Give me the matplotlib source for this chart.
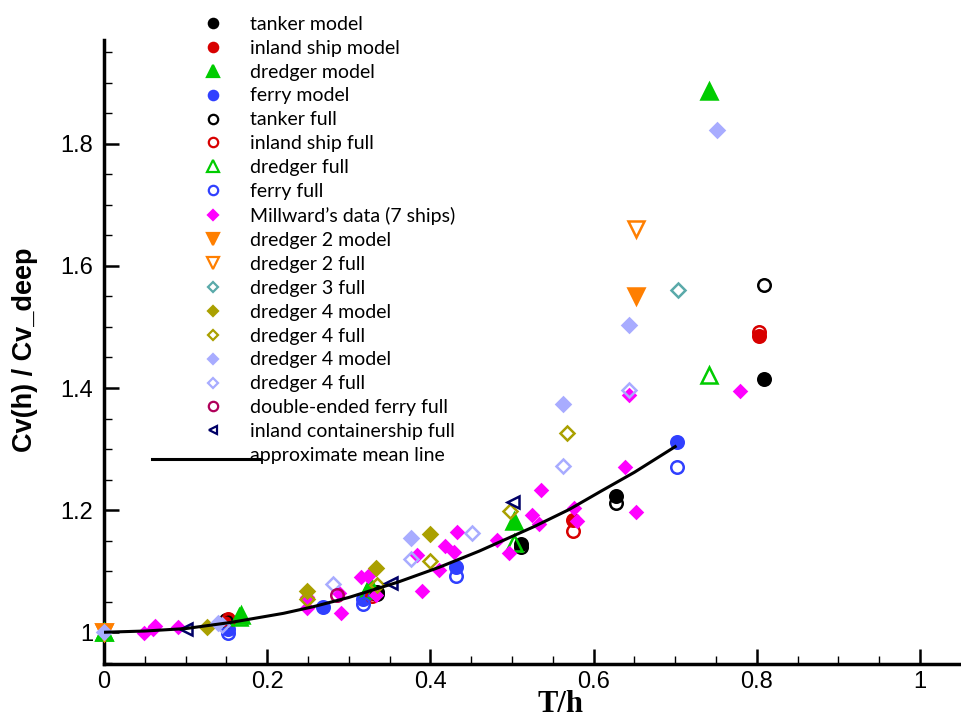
import matplotlib
matplotlib.use("Agg")
import matplotlib.pyplot as plt
from matplotlib.lines import Line2D
from matplotlib.legend_handler import HandlerBase
from matplotlib.ticker import MultipleLocator, FuncFormatter

# ---------------- data ----------------
tanker_model_x = [0.150, 0.334, 0.511, 0.628, 0.809]
tanker_model_y = [1.020, 1.066, 1.145, 1.223, 1.415]
tanker_full_x = [0.150, 0.334, 0.511, 0.628, 0.809]
tanker_full_y = [1.018, 1.063, 1.140, 1.211, 1.568]

inland_model_x = [0.152, 0.328, 0.575, 0.803]
inland_model_y = [1.022, 1.065, 1.184, 1.485]
inland_full_x = [0.152, 0.328, 0.575, 0.803]
inland_full_y = [1.020, 1.060, 1.166, 1.491]

dredger_model_x = [0.000, 0.168, 0.326, 0.502, 0.742]
dredger_model_y = [1.000, 1.028, 1.077, 1.182, 1.887]
dredger_full_x = [0.000, 0.165, 0.323, 0.502, 0.742]
dredger_full_y = [1.000, 1.025, 1.070, 1.146, 1.421]

ferry_model_x = [0.152, 0.268, 0.318, 0.431, 0.702]
ferry_model_y = [1.005, 1.041, 1.055, 1.107, 1.312]
ferry_full_x = [0.152, 0.318, 0.431, 0.702]
ferry_full_y = [0.998, 1.047, 1.092, 1.271]

millward_x = [0.049, 0.060, 0.063, 0.091, 0.249, 0.249, 0.291, 0.288, 0.315,
              0.324, 0.333, 0.384, 0.390, 0.411, 0.418, 0.429, 0.433, 0.481,
              0.496, 0.525, 0.533, 0.535, 0.576, 0.580, 0.639, 0.652, 0.643,
              0.779]
millward_y = [0.998, 1.005, 1.011, 1.009, 1.057, 1.039, 1.032, 1.065, 1.090,
              1.092, 1.061, 1.126, 1.068, 1.102, 1.141, 1.132, 1.164, 1.151,
              1.129, 1.192, 1.177, 1.233, 1.203, 1.182, 1.271, 1.197, 1.388,
              1.395]

dredger2_model_x = [0.000, 0.652]
dredger2_model_y = [1.000, 1.550]
dredger2_full_x = [0.000, 0.652]
dredger2_full_y = [1.000, 1.661]

dredger3_full_x = [0.703]
dredger3_full_y = [1.561]

dredger4a_model_x = [0.126, 0.249, 0.333, 0.399]
dredger4a_model_y = [1.009, 1.068, 1.106, 1.161]
dredger4a_full_x = [0.249, 0.334, 0.399, 0.497, 0.568]
dredger4a_full_y = [1.054, 1.077, 1.117, 1.199, 1.326]

dredger4b_model_x = [0.000, 0.140, 0.376, 0.562, 0.643, 0.751]
dredger4b_model_y = [1.000, 1.015, 1.154, 1.374, 1.503, 1.822]
dredger4b_full_x = [0.145, 0.281, 0.376, 0.451, 0.563, 0.643]
dredger4b_full_y = [1.012, 1.079, 1.120, 1.162, 1.273, 1.396]

def_ferry_full_x = [0.286]
def_ferry_full_y = [1.061]

container_full_x = [0.101, 0.352, 0.501]
container_full_y = [1.006, 1.080, 1.214]

mean_x = [0.0, 0.05, 0.10, 0.155, 0.22, 0.257, 0.30, 0.36, 0.41, 0.46, 0.527,
          0.57, 0.609, 0.65, 0.70]
mean_y = [1.0, 1.002, 1.006, 1.016, 1.031, 1.042, 1.057, 1.082, 1.106, 1.133,
          1.173, 1.201, 1.231, 1.262, 1.304]

# ---------------- style per series ----------------
BLACK = "#000000"
RED = "#d80000"
GREEN = "#00cc00"
BLUE = "#3040ff"
MAG = "#ff00ff"
ORANGE = "#ff7f00"
TEAL = "#5aaaaa"
OLIVE = "#aaa000"
LAV = "#a8acff"
MAROON = "#b0005a"
NAVY = "#000066"

series = [
    ("tanker model", tanker_model_x, tanker_model_y, "o", BLACK, True, 9),
    ("inland ship model", inland_model_x, inland_model_y, "o", RED, True, 9),
    ("dredger model", dredger_model_x, dredger_model_y, "^", GREEN, True, 12),
    ("ferry model", ferry_model_x, ferry_model_y, "o", BLUE, True, 9),
    ("tanker full", tanker_full_x, tanker_full_y, "o", BLACK, False, 9),
    ("inland ship full", inland_full_x, inland_full_y, "o", RED, False, 9),
    ("dredger full", dredger_full_x, dredger_full_y, "^", GREEN, False, 12),
    ("ferry full", ferry_full_x, ferry_full_y, "o", BLUE, False, 9),
    ("Millward\u2019s data (7 ships)", millward_x, millward_y, "D", MAG, True, 6.5),
    ("dredger 2 model", dredger2_model_x, dredger2_model_y, "v", ORANGE, True, 12),
    ("dredger 2 full", dredger2_full_x, dredger2_full_y, "v", ORANGE, False, 12),
    ("dredger 3 full", dredger3_full_x, dredger3_full_y, "D", TEAL, False, 7),
    ("dredger 4 model", dredger4a_model_x, dredger4a_model_y, "D", OLIVE, True, 7),
    ("dredger 4 full", dredger4a_full_x, dredger4a_full_y, "D", OLIVE, False, 7),
    ("dredger 4 model", dredger4b_model_x, dredger4b_model_y, "D", LAV, True, 7),
    ("dredger 4 full", dredger4b_full_x, dredger4b_full_y, "D", LAV, False, 7),
    ("double-ended ferry full", def_ferry_full_x, def_ferry_full_y, "o", MAROON, False, 9),
    ("inland containership full", container_full_x, container_full_y, "<", NAVY, False, 8),
]

fig = plt.figure(figsize=(9.62, 7.18), dpi=100)
ax = fig.add_axes([104 / 962, 1 - 664 / 718, (960 - 104) / 962, (664 - 40) / 718])

handles = []
for label, xs, ys, mk, col, filled, ms in series:
    ax.plot(xs, ys, linestyle="none", marker=mk, markersize=ms,
            markerfacecolor=col if filled else "none", markeredgecolor=col,
            markeredgewidth=1.8, clip_on=False, zorder=3)
    handles.append(Line2D([], [], linestyle="none", marker=mk, markersize=ms * 0.75,
                          markerfacecolor=col if filled else "none",
                          markeredgecolor=col, markeredgewidth=1.6, label=label))

ax.plot(mean_x, mean_y, color="black", linewidth=2.2, zorder=4)
mean_handle = Line2D([], [], color="black", linewidth=2.2, label="approximate mean line")
handles.append(mean_handle)

ax.set_xlim(0, 1.049)
ax.set_ylim(0.948, 1.970)

for s in ["top", "right"]:
    ax.spines[s].set_visible(False)
for s in ["left", "bottom"]:
    ax.spines[s].set_linewidth(2.5)

ax.xaxis.set_major_locator(MultipleLocator(0.2))
ax.xaxis.set_minor_locator(MultipleLocator(0.05))
ax.yaxis.set_major_locator(MultipleLocator(0.2))
ax.yaxis.set_minor_locator(MultipleLocator(0.05))
fmt = FuncFormatter(lambda v, p: "%g" % round(v, 6))
ax.xaxis.set_major_formatter(fmt)
ax.yaxis.set_major_formatter(fmt)
ax.tick_params(which="major", direction="in", length=11, width=1.8, labelsize=17)
ax.tick_params(axis="x", which="major", pad=5)
ax.tick_params(axis="y", which="major", pad=8)
ax.tick_params(which="minor", direction="in", length=6, width=1.0)
for t in ax.get_xticklabels() + ax.get_yticklabels():
    t.set_fontfamily("Liberation Sans")

fig.text(25 / 962, 1 - 350 / 718, "Cv(h) / Cv_deep", rotation=90, ha="center",
         va="center", fontsize=19.5, fontweight="bold", family="Liberation Sans")
fig.text(560 / 962, 1 - 690 / 718, "T/h", ha="center", va="top", fontsize=22,
         fontweight="bold", family="Liberation Serif")


class LongLineHandler(HandlerBase):
    def create_artists(self, legend, orig_handle, xdescent, ydescent, width,
                       height, fontsize, trans):
        y = height / 2 - ydescent - 0.35 * height
        line = Line2D([-xdescent - 1.75 * width, -xdescent + 2.2 * width], [y, y],
                      color="black", linewidth=2.2, transform=trans)
        return [line]


leg = fig.legend(handles=handles, loc="upper left",
                 bbox_to_anchor=(190 / 962, 1 - 6 / 718), frameon=False,
                 prop={"family": "Lato", "size": 14}, labelspacing=0.355,
                 handlelength=1.4, handletextpad=1.2, borderpad=0,
                 handler_map={mean_handle: LongLineHandler()})

fig.savefig("out.png", dpi=100)
